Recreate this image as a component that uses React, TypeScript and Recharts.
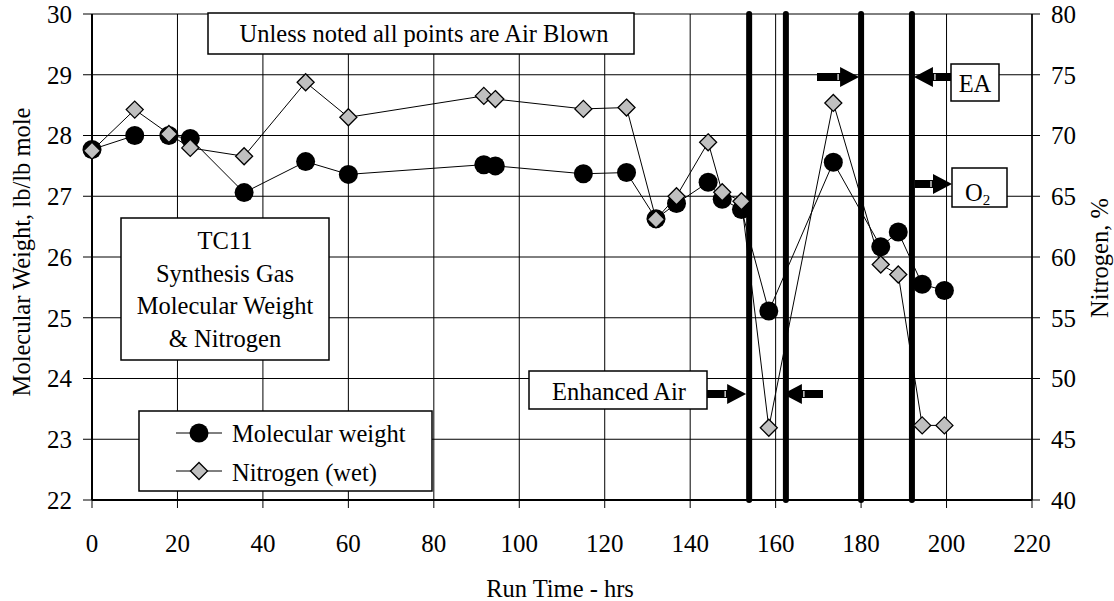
import { ComposedChart, Line, XAxis, YAxis, CartesianGrid, ReferenceLine } from 'recharts';

// run time (hrs) for each sample
const runTime = [0, 10, 18, 23, 35.6, 50, 60, 91.7, 94.4, 115, 125.1, 132, 136.8, 144.2, 147.5, 152, 158.4, 173.5, 184.6, 188.7, 194.3, 199.5];
// molecular weight, lb/lb mole (left axis)
const molWeight = [27.77, 28.0, 28.0, 27.95, 27.06, 27.57, 27.36, 27.52, 27.5, 27.37, 27.39, 26.63, 26.88, 27.23, 26.95, 26.78, 25.11, 27.56, 26.17, 26.41, 25.55, 25.45];
// nitrogen (wet), % (right axis)
const nitrogen = [68.75, 72.13, 70.13, 68.98, 68.29, 74.38, 71.5, 73.26, 73.0, 72.19, 72.3, 63.1, 65.0, 69.44, 65.33, 64.59, 45.95, 72.68, 59.38, 58.56, 46.14, 46.14];
// blast mode changes (hrs)
const modeChanges = [153.8, 162.4, 180.0, 191.9];

const xTicks = [0, 20, 40, 60, 80, 100, 120, 140, 160, 180, 200, 220];
const leftTicks = [22, 23, 24, 25, 26, 27, 28, 29, 30];
const rightTicks = [40, 45, 50, 55, 60, 65, 70, 75, 80];

const data = runTime.map((t, i) => ({ t, mw: molWeight[i], n2: nitrogen[i] }));

const W = 1114;
const H = 601;
const PLOT_LEFT = 92;
const PLOT_RIGHT = 1032;
const PLOT_TOP = 14;
const PLOT_BOTTOM = 500;
const FONT = "'Liberation Serif', 'Times New Roman', serif";

const xPx = (t: number) => PLOT_LEFT + (t / 220) * (PLOT_RIGHT - PLOT_LEFT);

const Circle = (props: any) => {
  const { cx, cy, index } = props;
  if (cx == null || cy == null) return <g key={`c${index}`} />;
  return <circle key={`c${index}`} cx={cx} cy={cy} r={9.5} fill="#000" />;
};

const Diamond = (props: any) => {
  const { cx, cy, index } = props;
  if (cx == null || cy == null) return <g key={`d${index}`} />;
  const s = 8.5;
  return (
    <polygon
      key={`d${index}`}
      points={`${cx},${cy - s} ${cx + s},${cy} ${cx},${cy + s} ${cx - s},${cy}`}
      fill="#c0c0c0"
      stroke="#000"
      strokeWidth={1.3}
    />
  );
};

// block arrow from tail to tip (horizontal), with the little white notch
function Arrow({ tail, tip, y }: { tail: number; tip: number; y: number }) {
  const d = tip > tail ? 1 : -1;
  const hb = tip - d * 19;
  const pts = [
    [tail, y - 4], [hb, y - 4], [hb, y - 10], [tip, y], [hb, y + 10], [hb, y + 4], [tail, y + 4],
  ].map(p => p.join(',')).join(' ');
  return (
    <g>
      <polygon points={pts} fill="#000" />
      <line x1={hb - d * 2} x2={hb - d * 2} y1={y - 3} y2={y + 3} stroke="#fff" strokeWidth={1.2} />
    </g>
  );
}

function Overlay() {
  const txt = { fontFamily: FONT, fontSize: 24.5, fill: '#000' } as const;
  const box = { fill: '#fff', stroke: '#000', strokeWidth: 1.5 } as const;
  return (
    <svg width={W} height={H} style={{ position: 'absolute', left: 0, top: 0, pointerEvents: 'none' }}>
      {/* axis titles */}
      <text x={560} y={597} textAnchor="middle" {...txt}>Run Time - hrs</text>
      <text transform="translate(30,252) rotate(-90)" textAnchor="middle" {...txt}>Molecular Weight, lb/lb mole</text>
      <text transform="translate(1108,258) rotate(-90)" textAnchor="middle" {...txt}>Nitrogen, %</text>

      {/* notes */}
      <rect x={208} y={13} width={426} height={41} {...box} />
      <text x={424} y={42} textAnchor="middle" {...txt}>Unless noted all points are Air Blown</text>

      <rect x={121} y={218} width={208} height={142} {...box} />
      <text x={225} y={249} textAnchor="middle" {...txt}>TC11</text>
      <text x={225} y={281.5} textAnchor="middle" {...txt}>Synthesis Gas</text>
      <text x={225} y={314} textAnchor="middle" {...txt}>Molecular Weight</text>
      <text x={225} y={346.5} textAnchor="middle" {...txt}>&amp; Nitrogen</text>

      <rect x={529} y={371} width={178} height={38} {...box} />
      <text x={619} y={400} textAnchor="middle" {...txt}>Enhanced Air</text>
      <Arrow tail={707} tip={xPx(modeChanges[0]) - 3} y={394} />
      <Arrow tail={823} tip={xPx(modeChanges[1]) - 3} y={394} />

      <Arrow tail={817} tip={xPx(modeChanges[2]) - 2} y={77} />
      <rect x={951} y={64} width={48} height={37} {...box} />
      <text x={975} y={92} textAnchor="middle" {...txt}>EA</text>
      <Arrow tail={951} tip={xPx(modeChanges[3]) + 2} y={77} />

      <Arrow tail={xPx(modeChanges[3]) + 3} tip={952} y={184} />
      <rect x={952} y={168} width={55} height={39} {...box} />
      <text x={965} y={201} {...txt}>O<tspan fontSize={15} dy={4}>2</tspan></text>

      {/* legend */}
      <rect x={139} y={411} width={293} height={80} {...box} />
      <line x1={176} x2={222} y1={433} y2={433} stroke="#000" strokeWidth={1} />
      <circle cx={199} cy={433} r={9.5} fill="#000" />
      <text x={232} y={441.5} {...txt}>Molecular weight</text>
      <line x1={176} x2={222} y1={471} y2={471} stroke="#000" strokeWidth={1} />
      <polygon points="199,462.5 207.5,471 199,479.5 190.5,471" fill="#c0c0c0" stroke="#000" strokeWidth={1.3} />
      <text x={232} y={480.5} {...txt}>Nitrogen (wet)</text>
    </svg>
  );
}

export default function App() {
  const tick = { fontFamily: FONT, fontSize: 25, fill: '#000' };
  return (
    <div style={{ position: 'absolute', left: 0, top: 0, width: W, height: H, background: '#fff' }}>
      <ComposedChart width={W} height={H} data={data} margin={{ top: PLOT_TOP, right: 0, bottom: 0, left: 0 }}>
        <CartesianGrid stroke="#000" strokeWidth={1} yAxisId="left" />
        <XAxis
          dataKey="t"
          type="number"
          domain={[0, 220]}
          ticks={xTicks}
          height={H - PLOT_BOTTOM}
          tick={tick}
          tickSize={8}
          tickMargin={26}
          axisLine={{ stroke: '#000', strokeWidth: 2 }}
          tickLine={{ stroke: '#000' }}
          interval={0}
        />
        <YAxis
          yAxisId="left"
          domain={[22, 30]}
          ticks={leftTicks}
          width={PLOT_LEFT}
          tick={tick}
          tickSize={9}
          tickMargin={11}
          axisLine={{ stroke: '#000', strokeWidth: 2 }}
          tickLine={{ stroke: '#000' }}
          interval={0}
        />
        <YAxis
          yAxisId="right"
          orientation="right"
          domain={[40, 80]}
          ticks={rightTicks}
          width={W - PLOT_RIGHT}
          tick={tick}
          tickSize={8}
          tickMargin={11}
          axisLine={{ stroke: '#000', strokeWidth: 1.5 }}
          tickLine={{ stroke: '#000' }}
          interval={0}
        />
        <Line
          yAxisId="left"
          dataKey="mw"
          type="linear"
          stroke="#000"
          strokeWidth={1}
          dot={Circle}
          activeDot={false}
          isAnimationActive={false}
        />
        <Line
          yAxisId="right"
          dataKey="n2"
          type="linear"
          stroke="#000"
          strokeWidth={1}
          dot={Diamond}
          activeDot={false}
          isAnimationActive={false}
        />
        {modeChanges.map(t => (
          <ReferenceLine key={t} x={t} yAxisId="left" stroke="#000" strokeWidth={6} strokeLinecap="round" />
        ))}
      </ComposedChart>
      <Overlay />
    </div>
  );
}
